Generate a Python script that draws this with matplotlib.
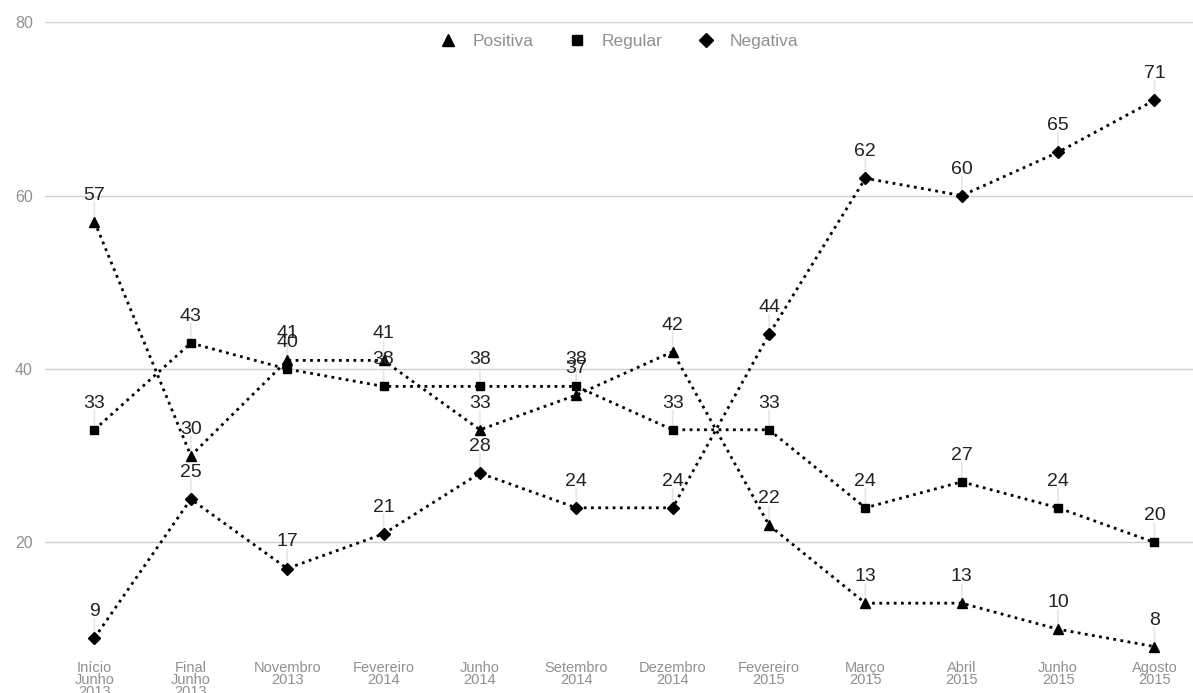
import matplotlib.pyplot as plt
from matplotlib.lines import Line2D

plt.rcParams['font.family'] = ['Liberation Sans', 'DejaVu Sans']

periodos = ["Início\nJunho\n2013", "Final\nJunho\n2013", "Novembro\n2013", "Fevereiro\n2014",
            "Junho\n2014", "Setembro\n2014", "Dezembro\n2014", "Fevereiro\n2015",
            "Março\n2015", "Abril\n2015", "Junho\n2015", "Agosto\n2015"]
positiva = [57, 30, 41, 41, 33, 37, 42, 22, 13, 13, 10, 8]
regular = [33, 43, 40, 38, 38, 38, 33, 33, 24, 27, 24, 20]
negativa = [9, 25, 17, 21, 28, 24, 24, 44, 62, 60, 65, 71]

series = [("Positiva", positiva, "^", 7),
          ("Regular", regular, "s", 6),
          ("Negativa", negativa, "D", 6)]

fig = plt.figure(figsize=(11.93, 6.93), dpi=100)
ax = fig.add_axes([0.038, 0.052, 0.962, 0.916])

x = list(range(len(periodos)))
handles = []
for nome, vals, mk, ms in series:
    ax.plot(x, vals, color="black", linestyle=(0, (1, 1.6)), linewidth=2,
            marker=mk, markersize=ms, zorder=3)
    handles.append(Line2D([], [], linestyle="none", marker=mk, color="black",
                          markersize=ms + 1, label=nome))
    for xi, v in zip(x, vals):
        # little grey stem from the point to its label
        ax.annotate("", xy=(xi, v), xytext=(0, 14), textcoords="offset points",
                    arrowprops=dict(arrowstyle="-", color="#e6e6e6", lw=1.2,
                                    shrinkA=0, shrinkB=0), zorder=1)
        ax.annotate(str(v), xy=(xi, v), xytext=(0, 13), textcoords="offset points",
                    ha="center", va="bottom", fontsize=14, color="#222222", zorder=4)

ax.set_xlim(-0.51, 11.4)
ax.set_ylim(6.8, 80)
ax.set_yticks([20, 40, 60, 80])
ax.set_xticks(x)
ax.set_xticklabels(periodos, fontsize=10.5, color="#909090", linespacing=0.82)
ax.tick_params(axis="y", labelsize=11.5, colors="#909090", length=0, pad=9)
ax.tick_params(axis="x", length=0, pad=3)
ax.grid(axis="y", color="#d0d0d0", linewidth=1)
ax.set_axisbelow(True)
for s in ax.spines.values():
    s.set_visible(False)

leg = ax.legend(handles=handles, loc="center", bbox_to_anchor=(0.5, 0.97),
                ncol=3, frameon=False, fontsize=12.5, handletextpad=0.9,
                columnspacing=2.0, handlelength=1)
for t in leg.get_texts():
    t.set_color("#909090")

fig.savefig("out.png", dpi=100)
